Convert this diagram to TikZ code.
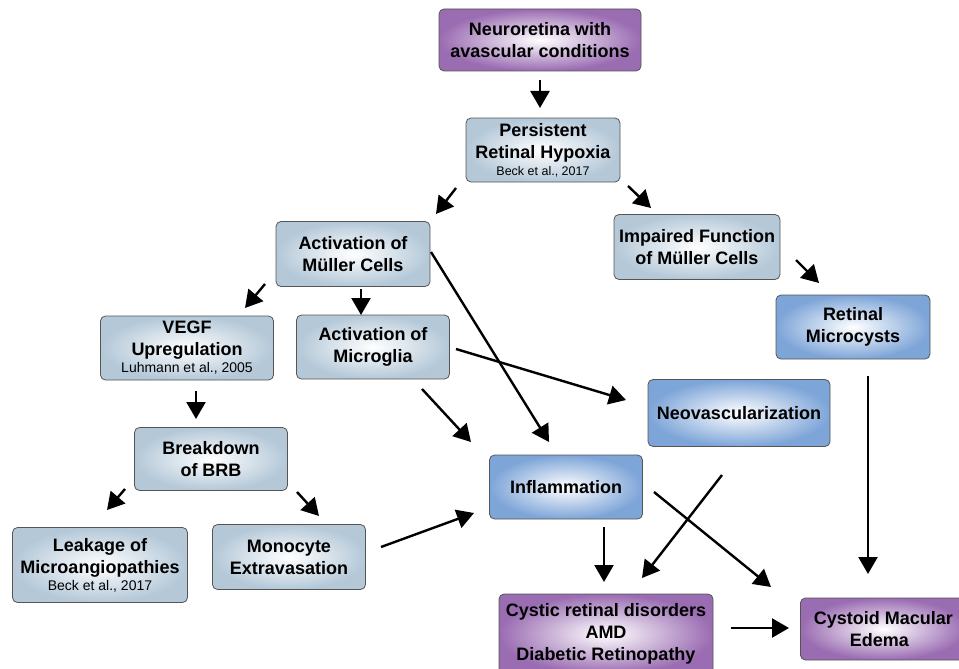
\documentclass[tikz,border=0pt]{standalone}
\usepackage{fontspec}
\setmainfont{Liberation Sans}
\usetikzlibrary{arrows.meta}
\definecolor{lightbox}{HTML}{B4C8D8}
\definecolor{bluebox}{HTML}{7EA5D8}
\definecolor{purplebox}{HTML}{9A6CB2}
\definecolor{edgegray}{HTML}{555555}
\newcommand{\citefont}{\fontsize{12.5}{14}\selectfont\mdseries}
\newcommand{\citefontb}{\fontsize{14}{16}\selectfont\mdseries}
\tikzset{
  box/.style={draw=edgegray, line width=0.8pt, rounded corners=5pt, align=center,
    font=\fontsize{18}{22}\selectfont\bfseries, inner sep=2pt},
  lbox/.style={box, inner color=white, outer color=lightbox},
  bbox/.style={box, inner color=white, outer color=bluebox},
  pbox/.style={box, inner color=white, outer color=purplebox},
  arr/.style={line width=2.4pt, -{Triangle[length=17pt,width=19pt]}},
}
\begin{document}
\begin{tikzpicture}[x=1pt,y=-1pt]
\useasboundingbox (0,0) rectangle (959,669);
% nodes
\node[pbox, minimum width=202pt, minimum height=62pt] (n1) at (540,40) {Neuroretina with\\avascular conditions};
\node[lbox, minimum width=154pt, minimum height=64pt] (n2) at (543,150) {Persistent\\Retinal Hypoxia\\[-5pt]{\citefont Beck et al., 2017}};
\node[lbox, minimum width=154pt, minimum height=65pt] (n3) at (353,254) {Activation of\\Müller Cells};
\node[lbox, minimum width=166pt, minimum height=65pt] (n4) at (697,247) {Impaired Function\\of Müller Cells};
\node[bbox, minimum width=154pt, minimum height=64pt] (n5) at (853,327) {Retinal\\Microcysts};
\node[lbox, minimum width=173pt, minimum height=64pt] (n6) at (187,348) {VEGF\\Upregulation\\[-5pt]{\citefontb Luhmann et al., 2005}};
\node[lbox, minimum width=153pt, minimum height=64pt] (n7) at (373,347) {Activation of\\Microglia};
\node[bbox, minimum width=182pt, minimum height=67pt] (n8) at (739,413) {Neovascularization};
\node[lbox, minimum width=153pt, minimum height=63pt] (n9) at (211,459) {Breakdown\\of BRB};
\node[bbox, minimum width=153pt, minimum height=64pt] (n10) at (566,487) {Inflammation};
\node[lbox, minimum width=175pt, minimum height=75pt] (n11) at (100,565) {Leakage of\\Microangiopathies\\[-5pt]{\citefontb Beck et al., 2017}};
\node[lbox, minimum width=153pt, minimum height=65pt] (n12) at (289,557) {Monocyte\\Extravasation};
\node[pbox, minimum width=214pt, minimum height=80pt] (n13) at (606,634) {Cystic retinal disorders\\AMD\\Diabetic Retinopathy};
\node[pbox, minimum width=166pt, minimum height=62pt, anchor=west] (n14) at (800,629) {Cystoid Macular\\Edema\hspace*{8pt}};
% arrow end points
\coordinate (a1s) at (540,80);  \coordinate (a1e) at (540,108);
\coordinate (a2s) at (456,188); \coordinate (a2e) at (436,214);
\coordinate (a3s) at (628,186); \coordinate (a3e) at (651,208);
\coordinate (a4s) at (265,284); \coordinate (a4e) at (245,308);
\coordinate (a5s) at (361,289); \coordinate (a5e) at (361,315);
\coordinate (a6s) at (431,252); \coordinate (a6e) at (549,442);
\coordinate (a7s) at (796,260); \coordinate (a7e) at (819,283);
\coordinate (a8s) at (456,349); \coordinate (a8e) at (626,400);
\coordinate (a9s) at (196,391); \coordinate (a9e) at (196,419);
\coordinate (a10s) at (422,389); \coordinate (a10e) at (471,442);
\coordinate (a11s) at (868,376); \coordinate (a11e) at (868,574);
\coordinate (a12s) at (125,489); \coordinate (a12e) at (107,510);
\coordinate (a13s) at (297,492); \coordinate (a13e) at (319,516);
\coordinate (a14s) at (381,547); \coordinate (a14e) at (474,513);
\coordinate (a15s) at (654,492); \coordinate (a15e) at (771,587);
\coordinate (a16s) at (722,475); \coordinate (a16e) at (642,578);
\coordinate (a17s) at (604,527); \coordinate (a17e) at (604,582);
\coordinate (a18s) at (731,628); \coordinate (a18e) at (789,628);
\foreach \i in {1,...,18} \draw[arr] (a\i s) -- (a\i e);
\end{tikzpicture}
\end{document}
